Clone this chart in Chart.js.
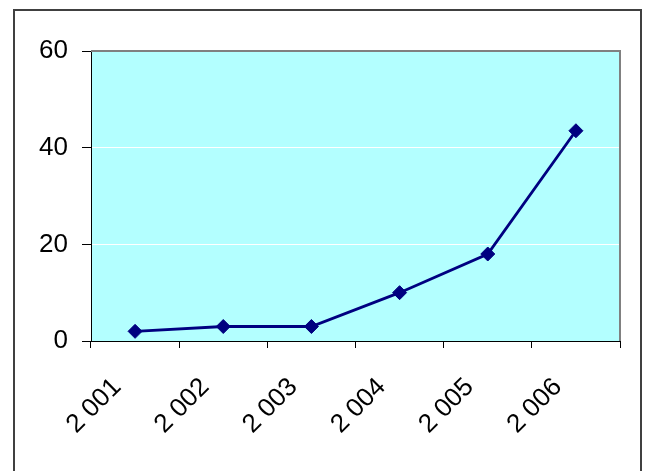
<!DOCTYPE html>
<html>
<head>
<meta charset="utf-8">
<script src="https://cdn.jsdelivr.net/npm/chart.js@4/dist/chart.umd.min.js"></script>
<style>
  html, body { margin: 0; padding: 0; background: #fff; }
  #wrap { width: 645px; height: 471px; position: relative; }
</style>
</head>
<body>
<div id="wrap"><canvas id="myChart" width="645" height="471"></canvas></div>
<script>
const years = ['2 001', '2 002', '2 003', '2 004', '2 005', '2 006'];
const values = [2, 3, 3, 10, 18, 43.5];
const yTicks = [0, 20, 40, 60];

const ctx = document.getElementById('myChart').getContext('2d');

// cyan plot area, grey top/right frame and the outer box
const frame = {
    id: 'frame',
    beforeDraw(chart) {
        const a = chart.chartArea;
        const c = chart.ctx;
        c.save();
        c.fillStyle = '#B3FFFF';
        c.fillRect(a.left, a.top, a.right - a.left, a.bottom - a.top);
        c.strokeStyle = '#404040';
        c.lineWidth = 2;
        c.strokeRect(14, 10, 627, 480);
        c.restore();
    },
    afterDatasetsDraw(chart) {
        const a = chart.chartArea;
        const c = chart.ctx;
        c.save();
        c.strokeStyle = '#808080';
        c.lineWidth = 2;
        c.beginPath();
        c.moveTo(a.left, a.top);
        c.lineTo(a.right, a.top);
        c.lineTo(a.right, a.bottom);
        c.stroke();
        c.restore();
    }
};

new Chart(ctx, {
    type: 'line',
    data: {
        labels: years,
        datasets: [{
            data: values,
            borderColor: '#000080',
            backgroundColor: '#000080',
            borderWidth: 2.8,
            pointStyle: 'rectRot',
            pointRadius: 7,
            pointBorderWidth: 1,
            tension: 0
        }]
    },
    options: {
        responsive: false,
        animation: false,
        layout: { padding: { top: 51, right: 25, left: 0, bottom: 0 } },
        plugins: { legend: { display: false }, tooltip: { enabled: false } },
        scales: {
            x: {
                offset: true,
                grid: { offset: true, drawOnChartArea: false, tickLength: 7, tickColor: '#000', lineWidth: 1 },
                border: { color: '#000', width: 1 },
                ticks: {
                    minRotation: 45, maxRotation: 45,
                    color: '#000',
                    padding: 24,
                    labelOffset: -18,
                    font: { family: "'Liberation Sans', Arial, sans-serif", size: 26 }
                },
                afterFit(scale) { scale.height = 130; }
            },
            y: {
                min: 0, max: 60,
                afterBuildTicks(scale) { scale.ticks = yTicks.map(v => ({ value: v })); },
                grid: { color: '#fff', lineWidth: 1, tickLength: 9, tickColor: '#000' },
                border: { color: '#000', width: 1 },
                ticks: {
                    color: '#000',
                    padding: 14,
                    font: { family: "'Liberation Sans', Arial, sans-serif", size: 26 }
                },
                afterFit(scale) { scale.width = 91; }
            }
        }
    },
    plugins: [frame]
});
</script>
</body>
</html>
